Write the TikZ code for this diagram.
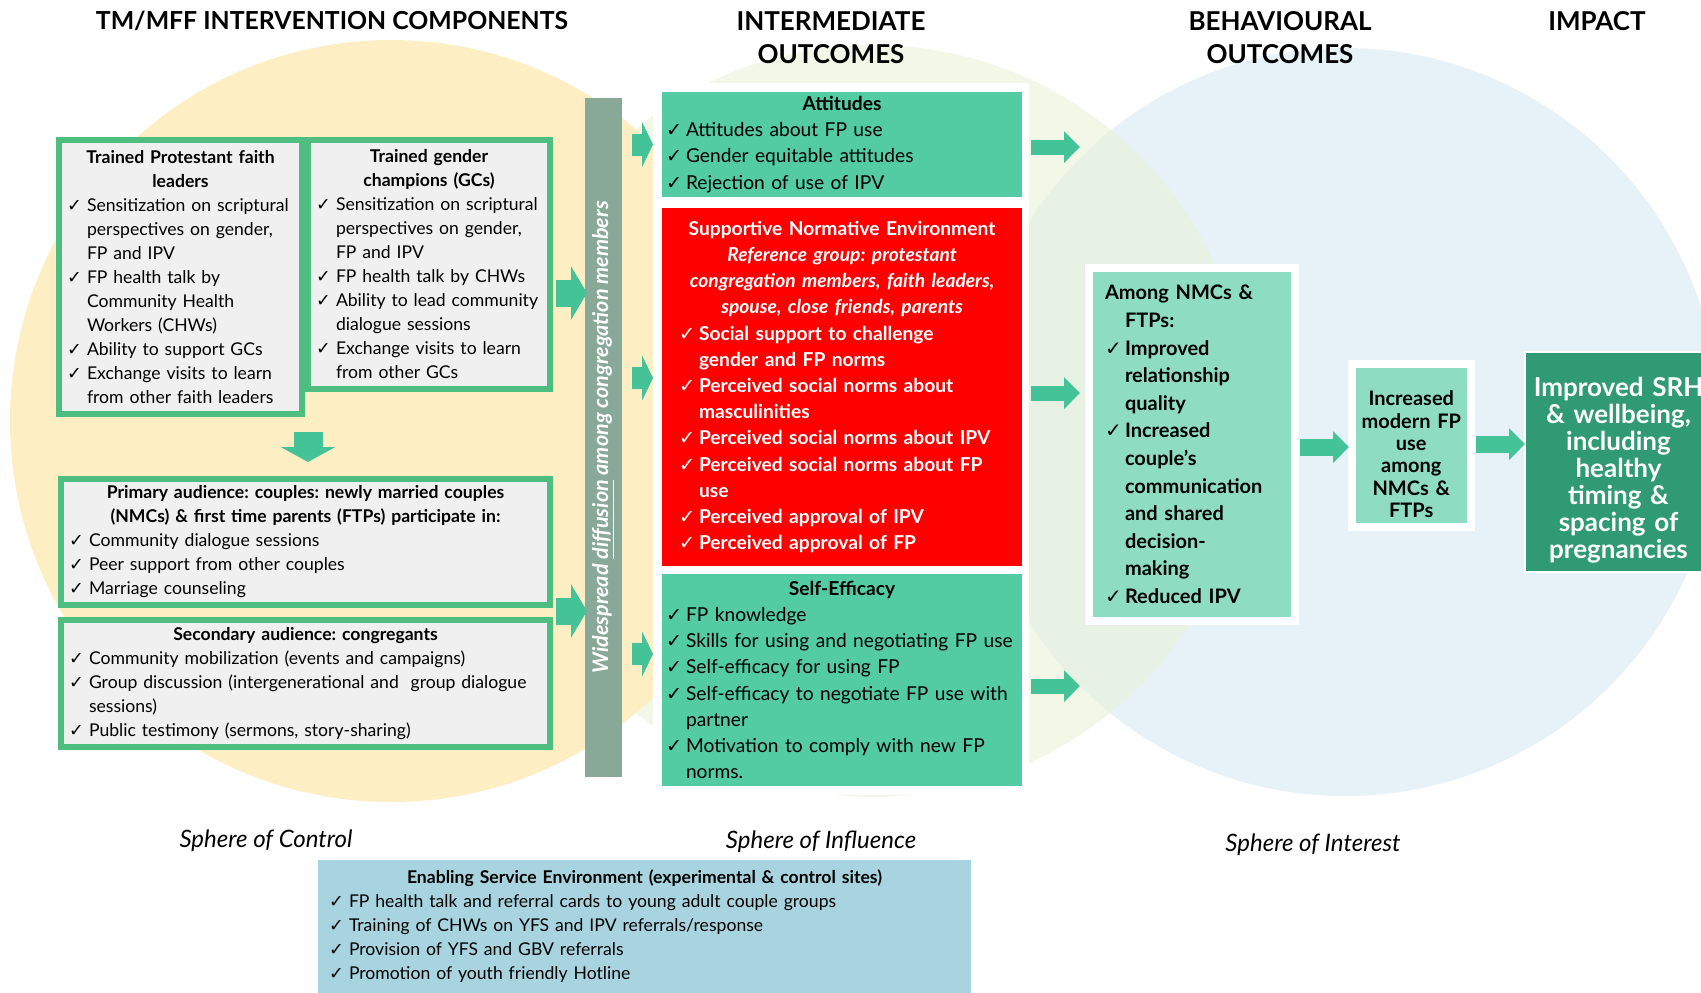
\documentclass[tikz,border=0pt]{standalone}
\usepackage{fontspec}
\setmainfont{Lato}
\newfontfamily\ckfont{DejaVu Sans}
\usetikzlibrary{arrows.meta}

\definecolor{sphyellow}{HTML}{FDEEC3}
\definecolor{sphgreen}{HTML}{EAF2D8}
\definecolor{sphblue}{HTML}{E6F2F7}
\definecolor{framegreen}{HTML}{4DBD80}
\definecolor{panelgray}{HTML}{F0F0F0}
\definecolor{arrowgreen}{HTML}{45C398}
\definecolor{barsage}{HTML}{88A898}
\definecolor{midteal}{HTML}{53CBA3}
\definecolor{paleteal}{HTML}{8EDDC3}
\definecolor{deepteal}{HTML}{2F9A73}
\definecolor{normred}{HTML}{FF0000}
\definecolor{serviceblue}{HTML}{A8D4E0}

\hyphenpenalty=10000
\exhyphenpenalty=10000
\frenchspacing

\newcommand\ck{{\ckfont ✓}}
\newcommand\itm[2][0pt]{\par\noindent\hangindent=\dimexpr#1+10pt\relax\hspace*{#1}\makebox[10pt][l]{\ck}{\let\\\newline#2}\par}

\tikzset{
  leftbox/.style={draw=framegreen, line width=3pt, fill=panelgray, inner xsep=4pt, inner ysep=0pt, outer sep=0pt, align=left, font=\fontsize{8.8}{12}\selectfont},
  midbox/.style={fill=midteal, inner xsep=2pt, inner ysep=0pt, outer sep=0pt, text width=176pt, align=left, font=\fontsize{9.6}{13.1}\selectfont},
  outbox/.style={fill=paleteal, draw=white, line width=4pt, inner ysep=0pt, outer sep=0pt, font=\fontsize{10}{13.8}\selectfont\bfseries},
  header/.style={align=center, font=\fontsize{13}{16.8}\selectfont\bfseries},
  sphere/.style={font=\fontsize{12}{14}\selectfont\itshape},
  bigarr/.style={color=arrowgreen, line width=13.5pt, -{Triangle[width=26.5pt,length=8pt]}},
  downarr/.style={color=arrowgreen, line width=14.5pt, -{Triangle[width=27pt,length=7.5pt]}},
  smallarr/.style={color=arrowgreen, line width=11pt, -{Triangle[width=22.5pt,length=5.5pt]}},
  midarr/.style={color=arrowgreen, line width=7.5pt, -{Triangle[width=15.5pt,length=8pt]}},
}

\begin{document}
\begin{tikzpicture}[x=0.5pt,y=-0.5pt]
\useasboundingbox (0,0) rectangle (1701,992);

% spheres
\fill[sphblue] (1345,422) circle (187pt);
\fill[sphgreen, fill opacity=0.6] (873,421) circle (188pt);
\fill[sphyellow] (391,421) circle (190.5pt);
\fill[white] (653,83) rectangle (1029,795);

\node(hdcomp) at (332,21)[header, font=\fontsize{12.4}{16.8}\selectfont\bfseries]{TM/MFF INTERVENTION COMPONENTS};
\node(hdinter) at (831,37.5)[header]{INTERMEDIATE\\OUTCOMES};
\node(hdbehav) at (1280,37.5)[header]{BEHAVIOURAL\\OUTCOMES};
\node(hdimpact) at (1597,21)[header]{IMPACT};

\node(grpA) at (180.5,277)[leftbox, text width=113.5pt, minimum height=137pt]{%
{\centering\bfseries Trained Protestant faith\\leaders\par}
\itm{Sensitization on scriptural\\perspectives on gender,\\FP and IPV}
\itm{FP health talk by\\Community Health\\Workers (CHWs)}
\itm{Ability to support GCs}
\itm{Exchange visits to learn\\from other faith leaders}};
\node(grpB) at (429,264.5)[leftbox, text width=113pt, minimum height=124.5pt]{%
{\centering\bfseries Trained gender\\champions (GCs)\par}
\itm{Sensitization on scriptural\\perspectives on gender,\\FP and IPV}
\itm{FP health talk by CHWs}
\itm{Ability to lead community\\dialogue sessions}
\itm{Exchange visits to learn\\from other GCs}};
\node(grpC) at (305.5,542)[leftbox, text width=236.5pt, minimum height=63pt]{%
{\centering\bfseries Primary audience: couples: newly married couples\\(NMCs) \& first time parents (FTPs) participate in:\par}
\itm{Community dialogue sessions}
\itm{Peer support from other couples}
\itm{Marriage counseling}};
\node(grpD) at (305.5,683.5)[leftbox, text width=236.5pt, minimum height=63.5pt]{%
{\centering\bfseries Secondary audience: congregants\par}
\itm{Community mobilization (events and campaigns)}
\itm{Group discussion (intergenerational and~ group dialogue\\sessions)}
\itm{Public testimony (sermons, story-sharing)}};

\node(bar) at (603.5,437.5)[fill=barsage, text=white, inner sep=0pt, outer sep=0pt, minimum width=18.5pt, minimum height=339.5pt, font=\fontsize{10.8}{12}\selectfont\bfseries\itshape]{\rotatebox{90}{Widespread \underline{diffusion} among congregation members}};

\node(att) at (842,144.5)[midbox, minimum height=52.5pt]{%
{\centering\bfseries Attitudes\par}
\itm{Attitudes about FP use}
\itm{Gender equitable attitudes}
\itm{Rejection of use of IPV}};
\node(norms) at (842,387)[midbox, fill=normred, text=white, minimum height=179pt, font=\fontsize{9.6}{13.1}\selectfont\bfseries]{%
{\centering Supportive Normative Environment\\\itshape Reference group: protestant\\congregation members, faith leaders,\\spouse, close friends, parents\par}
\itm[6.5pt]{Social support to challenge\\gender and FP norms}
\itm[6.5pt]{Perceived social norms about\\masculinities}
\itm[6.5pt]{Perceived social norms about IPV}
\itm[6.5pt]{Perceived social norms about FP\\use}
\itm[6.5pt]{Perceived approval of IPV}
\itm[6.5pt]{Perceived approval of FP}};
\node(selfeff) at (842,680)[midbox, minimum height=106pt]{%
{\centering\bfseries Self-Efficacy\par}
\itm{FP knowledge}
\itm{Skills for using and negotiating FP use}
\itm{Self-efficacy for using FP}
\itm{Self-efficacy to negotiate FP use with\\partner}
\itm{Motivation to comply with new FP\\norms.}};

\node(behav) at (1192,444.5)[outbox, inner xsep=8pt, text width=87pt, minimum height=176.5pt, align=left]{%
\noindent\hangindent=10pt Among NMCs \&\newline FTPs:
\itm{Improved\\relationship\\quality}
\itm{Increased\\couple's\\communication\\and shared\\decision-\\making}
\itm{Reduced IPV}};
\node(incr) at (1411.25,445.25)[outbox, inner xsep=2pt, text width=55.25pt, minimum height=81.75pt, align=center, font=\fontsize{10}{11.2}\selectfont\bfseries]{\rule{0pt}{16.5pt}Increased\\modern FP\\use\\among\\NMCs \&\\FTPs};
\node(impact) at (1618.5,462)[fill=deepteal, draw=white, line width=1pt, text=white, inner xsep=2pt, inner ysep=0pt, outer sep=0pt, text width=89.5pt, minimum height=110pt, align=center, font=\fontsize{13}{13.5}\selectfont\bfseries]{\rule{0pt}{17.5pt}Improved SRH\\\& wellbeing,\\including\\healthy\\timing \&\\spacing of\\pregnancies};

\node(sphctrl) at (266,841)[sphere]{Sphere of Control};
\node(sphinfl) at (821,842)[sphere]{Sphere of Influence};
\node(sphint) at (1313,845)[sphere]{Sphere of Interest};

\node(enab) at (644.5,926.5)[fill=serviceblue, inner xsep=5.5pt, inner ysep=0pt, outer sep=0pt, text width=315.5pt, minimum height=66.5pt, align=left, font=\fontsize{8.8}{12}\selectfont]{%
{\centering\bfseries Enabling Service Environment (experimental \& control sites)\par}
\itm{FP health talk and referral cards to young adult couple groups}
\itm{Training of CHWs on YFS and IPV referrals/response}
\itm{Provision of YFS and GBV referrals}
\itm{Promotion of youth friendly Hotline}};

\path [bigarr]
  (grpB.east |- 0,293) edge[shorten <=3pt, shorten >=-1pt] (bar.west |- 0,293)
  (grpC.east |- 0,611) edge[shorten <=3pt, shorten >=-1pt] (bar.west |- 0,611);
\path [downarr]
  (grpB.south west |- grpA.south) edge[shorten <=9pt, shorten >=8.5pt] (grpB.south west |- grpC.north);
\path [smallarr]
  (bar.east |- att.west) edge[shorten <=5pt, shorten >=4.5pt] (att.west)
  (bar.east |- 0,378)    edge[shorten <=5pt, shorten >=4.5pt] (norms.west |- 0,378)
  (bar.east |- 0,654)    edge[shorten <=5pt, shorten >=4.5pt] (selfeff.west |- 0,654);
\path [midarr]
  (att.east |- 0,147)     edge[shorten <=4.5pt, shorten >=4.5pt] (behav.west |- 0,147)
  (norms.east |- 0,393)   edge[shorten <=4.5pt, shorten >=4.5pt] (behav.west |- 0,393)
  (selfeff.east |- 0,686) edge[shorten <=4.5pt, shorten >=4.5pt] (behav.west |- 0,686)
  (behav.east |- 0,447)   edge[line width=8.5pt, shorten <=2.5pt, shorten >=1.5pt] (incr.west |- 0,447)
  (incr.east |- 0,444)    edge[line width=8.5pt, shorten <=2.75pt] (impact.west |- 0,444);

\end{tikzpicture}
\end{document}
